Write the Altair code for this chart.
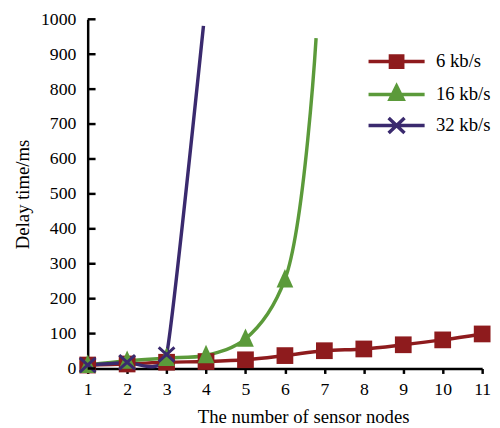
import altair as alt
import pandas as pd

# ---------------- data ----------------
series_names = ["6 kb/s", "16 kb/s", "32 kb/s"]
series_colors = ["#8E1B1D", "#5B9A3A", "#3A2A6E"]

nodes_6 = [1, 2, 3, 4, 5, 6, 7, 8, 9, 10, 11]
delay_6 = [10, 13, 18, 20, 25, 37, 51, 56, 68, 82, 99]

nodes_16 = [1, 2, 3, 4, 5, 6, 6.79]
delay_16 = [10, 22, 30, 38, 85, 255, 946]

nodes_32 = [1, 2, 3, 3.935]
delay_32 = [10, 18, 40, 981]

x_ticks = [1, 2, 3, 4, 5, 6, 7, 8, 9, 10, 11]
y_ticks = [0, 100, 200, 300, 400, 500, 600, 700, 800, 900, 1000]

marker_shapes = [
    "square",
    "M0,-1.25L1,0.95L-1,0.95Z",
    "M-1,-0.9L1,0.9M-1,0.9L1,-0.9",
]
legend_paths = [
    "M-3,0H3M-0.66,-0.6H0.66V0.6H-0.66Z",
    "M-3,0H3M0,-0.9L0.7,0.5L-0.7,0.5Z",
    "M-3,0H3M-0.85,-0.8L0.85,0.8M-0.85,0.8L0.85,-0.8",
]

rows = []
for name, xs, ys in zip(series_names, [nodes_6, nodes_16, nodes_32],
                        [delay_6, delay_16, delay_32]):
    for x, y in zip(xs, ys):
        rows.append({"series": name, "nodes": x, "delay": y,
                     "marker": float(x).is_integer()})
df = pd.DataFrame(rows)
ticks_df = pd.DataFrame({"delay": y_ticks})

FONT = "Liberation Serif"

x_scale = alt.Scale(domain=[1, 11], nice=False, zero=False)
y_scale = alt.Scale(domain=[0, 1000], nice=False)

x_enc = alt.X(
    "nodes:Q", scale=x_scale,
    axis=alt.Axis(values=x_ticks, title="The number of sensor nodes",
                  tickSize=5, labelPadding=7, titlePadding=10, titleX=219,
                  labelFlush=False, format="d",
                  labelFont=FONT, labelFontSize=18, titleFont=FONT, titleFontSize=19),
)
y_enc = alt.Y(
    "delay:Q", scale=y_scale,
    axis=alt.Axis(values=y_ticks, title="Delay time/ms", tickSize=0,
                  labelPadding=12, titlePadding=8, labelFlush=False, format="d",
                  labelFont=FONT, labelFontSize=18, titleFont=FONT, titleFontSize=19),
)

line_layers = []
marker_layers = []
marker_sizes = [289, 289, 256]
for name, col, shp, sz in zip(series_names, series_colors, marker_shapes, marker_sizes):
    sub = alt.Chart(df).transform_filter(alt.datum.series == name)
    if name == "32 kb/s":
        ln = sub.mark_line(strokeWidth=3.5, interpolate="cardinal", tension=0.6, color=col)
    else:
        ln = sub.mark_line(strokeWidth=3.5, interpolate="catmull-rom", color=col)
    line_layers.append(ln.encode(x=x_enc, y=y_enc))
    if name == "32 kb/s":
        mk = sub.transform_filter(alt.datum.marker == True).mark_point(
            shape=shp, filled=False, size=sz, opacity=1, strokeWidth=3, color=col)
    else:
        mk = sub.transform_filter(alt.datum.marker == True).mark_point(
            shape=shp, filled=True, size=sz, opacity=1, strokeWidth=0, color=col)
    marker_layers.append(mk.encode(x=x_enc, y=y_enc))

y_inner_ticks = alt.Chart(ticks_df).mark_rule(strokeWidth=2.5, color="black").encode(
    y=y_enc, x=alt.value(0), x2=alt.value(8)
)

leg = alt.Legend(
    orient="none", legendX=302.5, legendY=31.5, title=None,
    symbolSize=361, symbolStrokeWidth=3.5, symbolOpacity=1,
    labelFont=FONT, labelFontSize=19, labelColor="black",
    labelOffset=28.5, rowPadding=3.5, padding=0,
)

legend_layer = alt.Chart(df).transform_filter("false").mark_point(
    filled=True, opacity=1
).encode(
    x=x_enc, y=y_enc,
    fill=alt.Fill("series:N", scale=alt.Scale(domain=series_names, range=series_colors),
                  legend=leg),
    stroke=alt.Stroke("series:N", scale=alt.Scale(domain=series_names, range=series_colors),
                      legend=leg),
    shape=alt.Shape("series:N", scale=alt.Scale(domain=series_names, range=legend_paths),
                    legend=leg),
)

chart = alt.layer(*line_layers, *marker_layers, y_inner_ticks, legend_layer).properties(
    width=401, height=355,
    autosize=alt.AutoSizeParams(type="none"),
    padding={"left": 81, "top": 8, "right": 10, "bottom": 58},
    background="white",
).configure_view(stroke=None).configure_axis(
    grid=False, domainColor="black", domainWidth=2.5,
    tickColor="black", tickWidth=2.5,
    labelFont=FONT, labelFontSize=18, labelColor="black",
    titleFont=FONT, titleFontSize=19, titleFontWeight="normal", titleColor="black",
).configure_legend(labelFont=FONT)

chart.save("out.html", embed_options={"renderer": "svg", "actions": False})
